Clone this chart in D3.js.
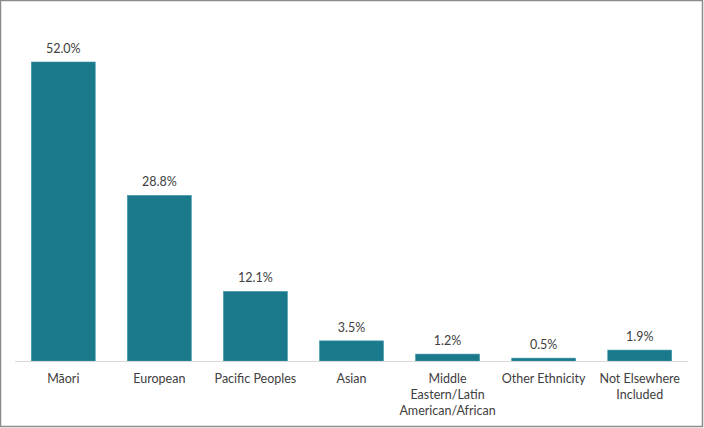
<!DOCTYPE html>
<html><head><meta charset="utf-8">
<script src="https://cdn.jsdelivr.net/npm/d3@7"></script>
<style>body{margin:0;background:#fff}svg{display:block}text{font-family:Lato,"Open Sans",sans-serif;fill:#404040}</style>
</head><body>
<script>
const categories = ["Māori","European","Pacific Peoples","Asian","Middle Eastern/Latin American/African","Other Ethnicity","Not Elsewhere Included"];
const categoryLines = [["Māori"],["European"],["Pacific Peoples"],["Asian"],["Middle","Eastern/Latin","American/African"],["Other Ethnicity"],["Not Elsewhere","Included"]];
const values = [52.0, 28.8, 12.1, 3.5, 1.2, 0.5, 1.9];
const valueLabels = ["52.0%","28.8%","12.1%","3.5%","1.2%","0.5%","1.9%"];

const W = 704, H = 428;
const svg = d3.select("body").append("svg").attr("width", W).attr("height", H);
svg.append("rect").attr("x",0.5).attr("y",0.5).attr("width",W-2).attr("height",H-2)
  .attr("fill","#fff").attr("stroke","#8c8c8c").attr("stroke-width",1.5);

const baseY = 361;
const x = d3.scaleBand().domain(categories).range([15, 688]).paddingInner(0.335).paddingOuter(0.17);
const y = d3.scaleLinear().domain([0, 60]).range([baseY, baseY - 345]);

svg.selectAll("rect.bar").data(values).join("rect").attr("class","bar")
  .attr("x",(d,i)=>x(categories[i])).attr("width",x.bandwidth())
  .attr("y",d=>y(d)).attr("height",d=>y(0)-y(d))
  .attr("fill","#1a7a8c").attr("stroke","#3b95a6").attr("stroke-width",0.6);

svg.append("line").attr("x1",15).attr("x2",688).attr("y1",baseY+0.5).attr("y2",baseY+0.5)
  .attr("stroke","#d9d9d9").attr("stroke-width",1);

svg.selectAll("text.val").data(values).join("text").attr("class","val")
  .attr("x",(d,i)=>x(categories[i])+x.bandwidth()/2).attr("y",d=>y(d)-9)
  .attr("text-anchor","middle").attr("font-size",12.5).text((d,i)=>valueLabels[i]);

const g = svg.selectAll("text.cat").data(categories).join("text").attr("class","cat")
  .attr("x",d=>x(d)+x.bandwidth()/2).attr("y",baseY+22)
  .attr("text-anchor","middle").attr("font-size",12.5);
g.each(function(d,i){
  const t = d3.select(this);
  categoryLines[i].forEach((ln,j)=>{
    t.append("tspan").attr("x",x(d)+x.bandwidth()/2).attr("dy",j===0?0:16).text(ln);
  });
});
</script>
</body></html>
